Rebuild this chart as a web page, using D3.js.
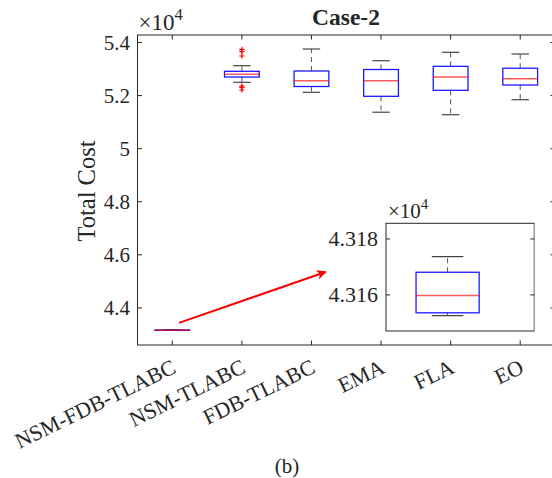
<!DOCTYPE html>
<html><head><meta charset="utf-8">
<script src="https://cdn.jsdelivr.net/npm/d3@7"></script>
<style>
html,body{margin:0;padding:0;background:#fff;}
svg{display:block;}
text{font-family:"Liberation Serif","Times New Roman",serif;fill:#262626;}
</style></head>
<body>
<svg id="chart" width="552" height="478"></svg>
<script>
// ---- data (values in units of 1e4) ----
const categories = ["NSM-FDB-TLABC","NSM-TLABC","FDB-TLABC","EMA","FLA","EO"];
const lowerWhisker = [4.31526, 5.2500, 5.2124, 5.1374, 5.1280, 5.1845];
const q1Values     = [4.31536, 5.2700, 5.2342, 5.1973, 5.2199, 5.2399];
const medianValues = [4.31598, 5.2802, 5.2561, 5.2557, 5.2700, 5.2636];
const q3Values     = [4.31681, 5.2915, 5.2926, 5.2983, 5.3103, 5.3031];
const upperWhisker = [4.31737, 5.3126, 5.3755, 5.3314, 5.3631, 5.3567];
const outlierCategory = ["NSM-TLABC","NSM-TLABC","NSM-TLABC","NSM-TLABC","NSM-TLABC","NSM-TLABC"];
const outlierValues   = [5.3744, 5.3653, 5.3491, 5.2361, 5.2312, 5.2210];
const yTicks = [4.4, 4.6, 4.8, 5.0, 5.2, 5.4];
const yDomain = [4.2602, 5.4283];
const insetTicks = [4.316, 4.318];
const insetDomain = [4.31471, 4.31856];
const arrowFrom = [1.096, 4.3435];   // [category position, value]
const arrowTo   = [3.204, 4.5355];

const svg = d3.select("#chart");
const M = {left:137.5, right:555, top:35, bottom:345};

const idx = categories.map((c,i)=>i+1);
const x = d3.scaleLinear().domain([0.5, 6.5]).range([M.left, M.right]);
const y = d3.scaleLinear().domain(yDomain).range([M.bottom, M.top]);
const boxW = 0.5;

const stats = categories.map((c,i)=>({c, i:i+1, lw:lowerWhisker[i], q1:q1Values[i], med:medianValues[i], q3:q3Values[i], uw:upperWhisker[i]}));

function drawBoxes(g, data, xs, ys){
  data.forEach(d=>{
    const xc = xs(d.i), hw = (xs(d.i+boxW/2)-xs(d.i-boxW/2))/2;
    g.append("line").attr("x1",xc).attr("x2",xc).attr("y1",ys(d.q3)).attr("y2",ys(d.uw))
      .attr("stroke","#555").attr("stroke-width",1).attr("stroke-dasharray","5,4");
    g.append("line").attr("x1",xc).attr("x2",xc).attr("y1",ys(d.q1)).attr("y2",ys(d.lw))
      .attr("stroke","#555").attr("stroke-width",1).attr("stroke-dasharray","5,4");
    [d.uw,d.lw].forEach(v=>g.append("line").attr("x1",xc-hw/2).attr("x2",xc+hw/2)
      .attr("y1",ys(v)).attr("y2",ys(v)).attr("stroke","#444").attr("stroke-width",1.2));
    g.append("rect").attr("x",xc-hw).attr("width",2*hw)
      .attr("y",ys(d.q3)).attr("height",Math.max(0.01,ys(d.q1)-ys(d.q3)))
      .attr("fill","none").attr("stroke","#1a1aff").attr("stroke-width",1.3);
    g.append("line").attr("x1",xc-hw).attr("x2",xc+hw).attr("y1",ys(d.med)).attr("y2",ys(d.med))
      .attr("stroke","#ff0000").attr("stroke-width",1.5).attr("stroke-opacity",0.65);
  });
}

const plot = svg.append("g");
plot.append("rect").attr("x",M.left).attr("y",M.top).attr("width",M.right-M.left).attr("height",M.bottom-M.top)
  .attr("fill","none").attr("stroke","#262626").attr("stroke-width",1);

const tl = 4.5;
yTicks.forEach(t=>{
  plot.append("line").attr("x1",M.left).attr("x2",M.left+tl).attr("y1",y(t)).attr("y2",y(t)).attr("stroke","#262626");
  plot.append("line").attr("x1",M.right).attr("x2",M.right-tl).attr("y1",y(t)).attr("y2",y(t)).attr("stroke","#262626");
  plot.append("text").attr("x",M.left-7.5).attr("y",y(t)).attr("dy","0.34em").attr("text-anchor","end")
    .attr("font-size",21).text(d3.format("~g")(t));
});
idx.forEach(i=>{
  plot.append("line").attr("x1",x(i)).attr("x2",x(i)).attr("y1",M.bottom).attr("y2",M.bottom-tl).attr("stroke","#262626");
  plot.append("line").attr("x1",x(i)).attr("x2",x(i)).attr("y1",M.top).attr("y2",M.top+tl).attr("stroke","#262626");
});
categories.forEach((c,i)=>{
  const px = x(i+1)+5, py = M.bottom+27;
  plot.append("text").attr("transform",`translate(${px},${py}) rotate(-26)`)
    .attr("text-anchor","end").attr("font-size",21.8).text(c);
});

const ex = plot.append("text").attr("x",M.left+1).attr("y",29.5).attr("font-size",23);
ex.append("tspan").text("\u00d710");
ex.append("tspan").attr("dy",-10).attr("font-size",16.5).text("4");

svg.append("text").attr("x",346).attr("y",25).attr("text-anchor","middle")
  .attr("font-size",23.5).attr("font-weight","bold").attr("fill","#000").text("Case-2");
svg.append("text").attr("transform","translate(94.5,191) rotate(-90)").attr("text-anchor","middle")
  .attr("font-size",24.5).text("Total Cost");
svg.append("text").attr("x",287).attr("y",473).attr("text-anchor","middle").attr("font-size",21).attr("fill","#000").text("(b)");

drawBoxes(plot, stats, x, y);
outlierValues.forEach((v,k)=>{
  const xc = x(categories.indexOf(outlierCategory[k])+1), yc = y(v), s=2.6;
  plot.append("path").attr("d",`M${xc-s},${yc}H${xc+s}M${xc},${yc-s}V${yc+s}`)
    .attr("stroke","#ff0000").attr("stroke-width",1.2);
});

svg.append("defs").append("marker").attr("id","ah").attr("viewBox","0 0 10 10").attr("refX",9).attr("refY",5)
  .attr("markerWidth",5).attr("markerHeight",5).attr("orient","auto").attr("markerUnits","strokeWidth")
  .append("path").attr("d","M0,0L10,5L0,10L3,5Z").attr("fill","#ff0000");
svg.append("line").attr("x1",x(arrowFrom[0])).attr("y1",y(arrowFrom[1])).attr("x2",x(arrowTo[0])).attr("y2",y(arrowTo[1]))
  .attr("stroke","#ff0000").attr("stroke-width",2).attr("marker-end","url(#ah)");

const I = {left:386, right:534.3, top:223.3, bottom:331};
const ix = d3.scaleLinear().domain([0.512, 1.687]).range([I.left, I.right]);
const iy = d3.scaleLinear().domain(insetDomain).range([I.bottom, I.top]);
const inset = svg.append("g");
inset.append("rect").attr("x",I.left).attr("y",I.top).attr("width",I.right-I.left).attr("height",I.bottom-I.top)
  .attr("fill","#fff").attr("stroke","#262626").attr("stroke-width",1);
inset.append("line").attr("x1",I.right).attr("x2",I.right).attr("y1",I.top).attr("y2",I.bottom).attr("stroke","#aaa").attr("stroke-width",1.2);
insetTicks.forEach(t=>{
  inset.append("line").attr("x1",I.left).attr("x2",I.left+4).attr("y1",iy(t)).attr("y2",iy(t)).attr("stroke","#262626");
  inset.append("line").attr("x1",I.right).attr("x2",I.right-4).attr("y1",iy(t)).attr("y2",iy(t)).attr("stroke","#262626");
  inset.append("text").attr("x",I.left-8).attr("y",iy(t)).attr("dy","0.34em").attr("text-anchor","end")
    .attr("font-size",22).text(d3.format(".3f")(t));
});
const iex = inset.append("text").attr("x",I.left+2).attr("y",218).attr("font-size",21);
iex.append("tspan").text("\u00d710");
iex.append("tspan").attr("dy",-9).attr("font-size",15).text("4");
drawBoxes(inset, [stats[0]], ix, iy);
</script>
</body></html>
